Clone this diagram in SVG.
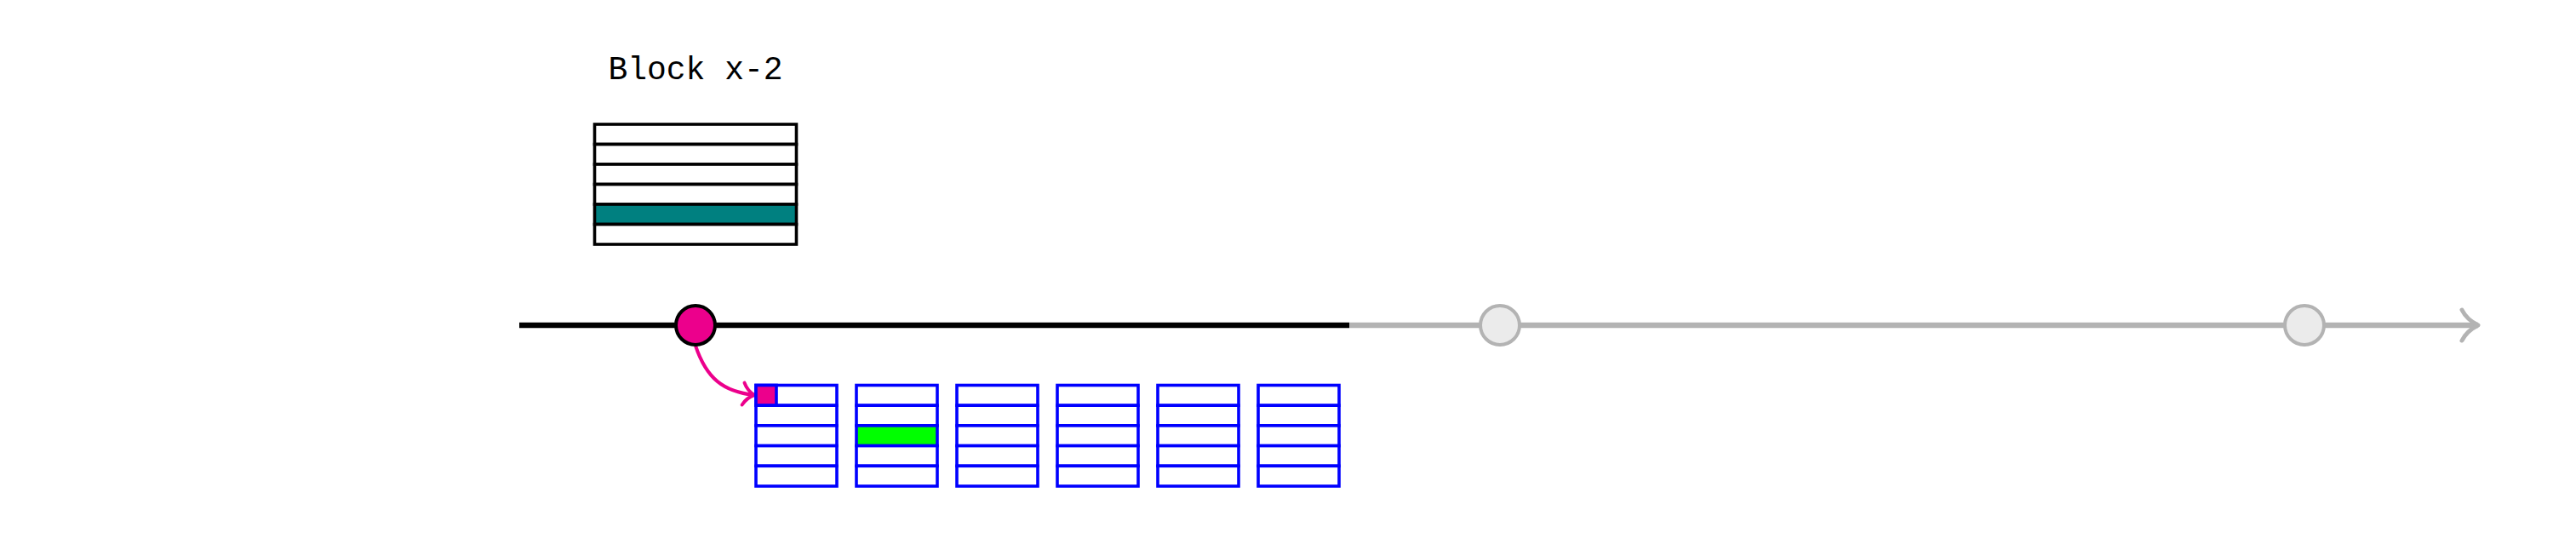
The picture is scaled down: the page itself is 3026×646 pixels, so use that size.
<svg xmlns="http://www.w3.org/2000/svg" width="3026" height="646" viewBox="0 0 3026 646">
<style>
.lbl{font-family:"Liberation Mono","Courier New",monospace;font-size:38px;fill:#000;text-anchor:middle}
.blk{fill:#fff;stroke:#000;stroke-width:3.6}
.bl{fill:#fff;stroke:#0000ff;stroke-width:3.6}
.ghost{fill:#ebebeb;stroke:#b3b3b3;stroke-width:4}
</style>
<defs>
<marker id="arrG" markerUnits="userSpaceOnUse" viewBox="-24 -22 28 44" markerWidth="28" markerHeight="44" refX="0" refY="0" orient="auto" overflow="visible">
<path d="M-19,-18 C-15,-10 -8,-4 0,0 C-8,4 -15,10 -19,18" fill="none" stroke="#b3b3b3" stroke-width="5" stroke-linecap="round" stroke-linejoin="round"/>
</marker>
<marker id="arrP" markerUnits="userSpaceOnUse" viewBox="-18 -16 22 32" markerWidth="22" markerHeight="32" refX="0" refY="0" orient="auto" overflow="visible">
<path d="M-13,-13 C-10,-7 -6,-3 0,0 C-6,3 -10,7 -13,13" fill="none" stroke="#ec008c" stroke-width="4" stroke-linecap="round" stroke-linejoin="round"/>
</marker>
</defs>
<rect width="3026" height="646" fill="#fff"/>

<g id="connectors">
<line x1="1585" y1="382" x2="2911" y2="382" stroke="#b3b3b3" stroke-width="6.5" marker-end="url(#arrG)"/>
<line x1="610" y1="382" x2="1585" y2="382" stroke="#000" stroke-width="6.5"/>
<path d="M817,406 C830,445 850,460 886,464" fill="none" stroke="#ec008c" stroke-width="4" marker-end="url(#arrP)"/>
</g>

<g id="block-x-2">
<text class="lbl" x="817" y="93">Block x-2</text>
<rect class="blk" x="698.5" y="146" width="237" height="23.5"/>
<rect class="blk" x="698.5" y="169.5" width="237" height="23.5"/>
<rect class="blk" x="698.5" y="193" width="237" height="23.5"/>
<rect class="blk" x="698.5" y="216.5" width="237" height="23.5"/>
<rect class="blk" x="698.5" y="240" width="237" height="23.5" style="fill:#008080"/>
<rect class="blk" x="698.5" y="263.5" width="237" height="23.5"/>
</g>

<g id="node-current">
<circle cx="817" cy="382" r="23" fill="#ec008c" stroke="#000" stroke-width="4"/>
</g>
<g id="node-future-1">
<circle class="ghost" cx="1762" cy="382" r="23"/>
</g>
<g id="node-future-2">
<circle class="ghost" cx="2707" cy="382" r="23"/>
</g>

<g id="bucket-1">
<rect class="bl" x="888" y="452.5" width="95" height="23.7"/>
<rect class="bl" x="888" y="452.5" width="24" height="23.7" style="fill:#ec008c"/>
<rect class="bl" x="888" y="476.2" width="95" height="23.7"/>
<rect class="bl" x="888" y="499.9" width="95" height="23.7"/>
<rect class="bl" x="888" y="523.6" width="95" height="23.7"/>
<rect class="bl" x="888" y="547.3" width="95" height="23.7"/>
</g>
<g id="bucket-2">
<rect class="bl" x="1006" y="452.5" width="95" height="23.7"/>
<rect class="bl" x="1006" y="476.2" width="95" height="23.7"/>
<rect class="bl" x="1006" y="499.9" width="95" height="23.7" style="fill:#00ff00"/>
<rect class="bl" x="1006" y="523.6" width="95" height="23.7"/>
<rect class="bl" x="1006" y="547.3" width="95" height="23.7"/>
</g>
<g id="bucket-3">
<rect class="bl" x="1124" y="452.5" width="95" height="23.7"/>
<rect class="bl" x="1124" y="476.2" width="95" height="23.7"/>
<rect class="bl" x="1124" y="499.9" width="95" height="23.7"/>
<rect class="bl" x="1124" y="523.6" width="95" height="23.7"/>
<rect class="bl" x="1124" y="547.3" width="95" height="23.7"/>
</g>
<g id="bucket-4">
<rect class="bl" x="1242" y="452.5" width="95" height="23.7"/>
<rect class="bl" x="1242" y="476.2" width="95" height="23.7"/>
<rect class="bl" x="1242" y="499.9" width="95" height="23.7"/>
<rect class="bl" x="1242" y="523.6" width="95" height="23.7"/>
<rect class="bl" x="1242" y="547.3" width="95" height="23.7"/>
</g>
<g id="bucket-5">
<rect class="bl" x="1360" y="452.5" width="95" height="23.7"/>
<rect class="bl" x="1360" y="476.2" width="95" height="23.7"/>
<rect class="bl" x="1360" y="499.9" width="95" height="23.7"/>
<rect class="bl" x="1360" y="523.6" width="95" height="23.7"/>
<rect class="bl" x="1360" y="547.3" width="95" height="23.7"/>
</g>
<g id="bucket-6">
<rect class="bl" x="1478" y="452.5" width="95" height="23.7"/>
<rect class="bl" x="1478" y="476.2" width="95" height="23.7"/>
<rect class="bl" x="1478" y="499.9" width="95" height="23.7"/>
<rect class="bl" x="1478" y="523.6" width="95" height="23.7"/>
<rect class="bl" x="1478" y="547.3" width="95" height="23.7"/>
</g>
</svg>
